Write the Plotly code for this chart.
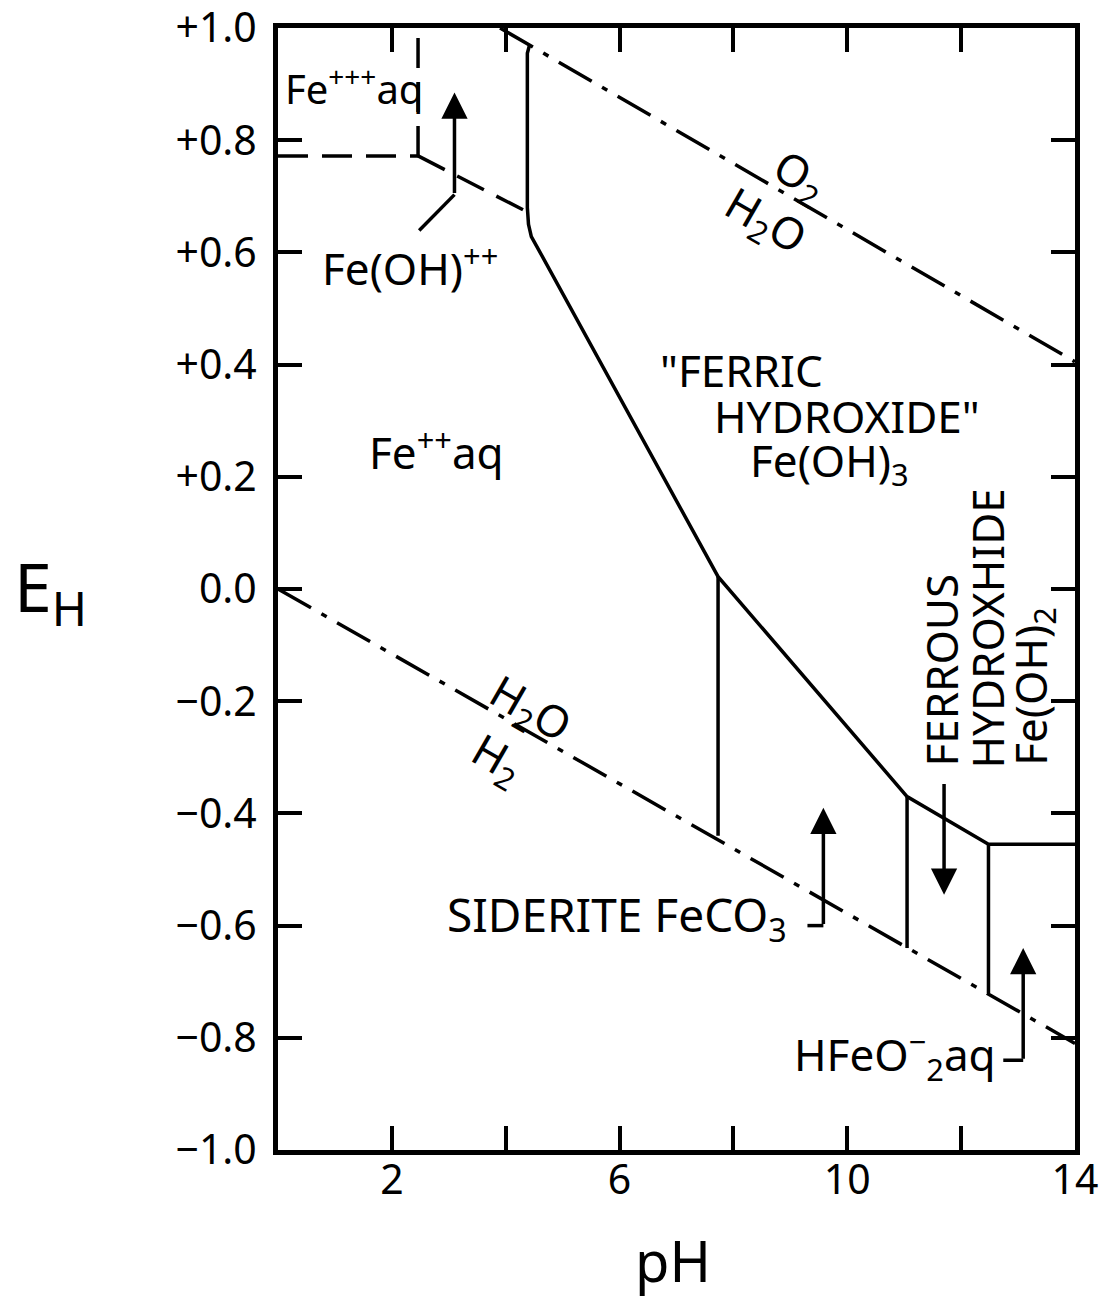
import plotly.graph_objects as go

# ---------------- data (pH, Eh) ----------------
o2_ph = [3.9, 14.0]
o2_eh = [1.0, 0.405]

h2_ph = [0.0, 14.0]
h2_eh = [0.0, -0.81]

fe3_h_ph = [0.0, 2.46]
fe3_h_eh = [0.772, 0.772]
fe3_v_ph = [2.46, 2.46]
fe3_v_eh = [0.772, 1.0]
feoh_ph = [2.46, 4.38]
feoh_eh = [0.772, 0.672]

ferric_ph = [4.42, 4.38, 4.38, 4.40, 4.45, 4.55, 7.73, 11.05, 12.48, 14.0]
ferric_eh = [0.97, 0.955, 0.68, 0.65, 0.628, 0.61, 0.022, -0.37, -0.455, -0.455]

vert1_ph = [7.73, 7.73]
vert1_eh = [0.022, -0.44]
vert2_ph = [11.05, 11.05]
vert2_eh = [-0.37, -0.64]
vert3_ph = [12.48, 12.48]
vert3_eh = [-0.455, -0.72]

# leader lines and arrows
lead_feoh_ph = [2.48, 3.1]
lead_feoh_eh = [0.639, 0.703]
arrow_feoh = (3.1, 0.703, 3.1, 0.885)
lead_sid_ph = [9.30, 9.58]
lead_sid_eh = [-0.60, -0.60]
arrow_sid = (9.58, -0.60, 9.58, -0.39)
arrow_ferrous = (11.70, -0.345, 11.70, -0.545)
lead_hfe_ph = [12.74, 13.09]
lead_hfe_eh = [-0.84, -0.84]
arrow_hfe = (13.09, -0.84, 13.09, -0.64)

x_tickvals = [2, 4, 6, 8, 10, 12, 14]
x_ticktext = ["2", "", "6", "", "10", "", "14"]
y_tickvals = [1.0, 0.8, 0.6, 0.4, 0.2, 0.0, -0.2, -0.4, -0.6, -0.8, -1.0]
y_ticktext = ["+1.0", "+0.8", "+0.6", "+0.4", "+0.2", "0.0", "\u22120.2", "\u22120.4",
              "\u22120.6", "\u22120.8", "\u22121.0"]

FONT = "Noto Sans"
LW = 3.5
FS = 44

fig = go.Figure()

def line(x, y, dash="solid", width=LW):
    fig.add_trace(go.Scatter(x=x, y=y, mode="lines",
                             line=dict(color="black", width=width, dash=dash),
                             hoverinfo="skip", showlegend=False))

dashdot = "38px,12px,6px,12px"
dashed = "30px,14px"
line(o2_ph, o2_eh, dashdot)
line(h2_ph, h2_eh, dashdot)
line(fe3_h_ph, fe3_h_eh, dashed)
line(fe3_v_ph, fe3_v_eh, dashed)
line(feoh_ph, feoh_eh, dashed)
line(ferric_ph, ferric_eh)
line(vert1_ph, vert1_eh)
line(vert2_ph, vert2_eh)
line(vert3_ph, vert3_eh)
line(lead_feoh_ph, lead_feoh_eh)
line(lead_sid_ph, lead_sid_eh)
line(lead_hfe_ph, lead_hfe_eh)

for (x0, y0, x1, y1) in [arrow_feoh, arrow_sid, arrow_ferrous, arrow_hfe]:
    fig.add_annotation(x=x1, y=y1, ax=x0, ay=y0, xref="x", yref="y",
                       axref="x", ayref="y", text="", showarrow=True,
                       arrowhead=2, arrowsize=1.5, arrowwidth=3.5, arrowcolor="black")

def label(x, y, text, size=FS, angle=0, xanchor="center", yanchor="middle"):
    fig.add_annotation(x=x, y=y, xref="x", yref="y", text=text, showarrow=False,
                       textangle=angle, xanchor=xanchor, yanchor=yanchor,
                       font=dict(family=FONT, size=size, color="black"))

label(0.09, 0.895, "Fe<sup>+++</sup>aq", size=40, xanchor="left")
label(0.74, 0.575, "Fe(OH)<sup>++</sup>", xanchor="left")
label(1.56, 0.248, "Fe<sup>++</sup>aq", xanchor="left")
label(6.68, 0.391, "\"FERRIC", xanchor="left")
label(7.63, 0.309, "HYDROXIDE\"", xanchor="left")
label(8.26, 0.225, "Fe(OH)<sub>3</sub>", xanchor="left")
label(2.93, -0.585, "SIDERITE FeCO<sub>3</sub>", size=46, xanchor="left")
label(12.65, -0.83, "HFeO<sup>\u2212</sup><sub>2</sub>aq", xanchor="right")
label(11.65, -0.145, "FERROUS", angle=-90)
label(12.46, -0.07, "HYDROXHIDE", angle=-90)
label(13.24, -0.173, "Fe(OH)<sub>2</sub>", angle=-90)
label(9.17, 0.736, "O<sub>2</sub>", angle=30)
label(8.56, 0.655, "H<sub>2</sub>O", angle=30)
label(4.43, -0.214, "H<sub>2</sub>O", angle=30)
label(3.85, -0.304, "H<sub>2</sub>", angle=30)

# axis titles
fig.add_annotation(x=-0.334, y=0.5, xref="paper", yref="paper", text="E<sub>H</sub>",
                   showarrow=False, xanchor="left", yanchor="middle",
                   font=dict(family=FONT, size=68, color="black"))
fig.add_annotation(x=0.495, y=-0.098, xref="paper", yref="paper", text="pH",
                   showarrow=False, xanchor="center", yanchor="middle",
                   font=dict(family=FONT, size=56, color="black"))

axis_common = dict(showgrid=False, zeroline=False, showline=True, linecolor="black",
                   linewidth=5, mirror="ticks", ticks="inside", ticklen=24,
                   tickwidth=4, tickcolor="black", automargin=False,
                   ticklabeloverflow="allow",
                   tickfont=dict(family=FONT, size=41, color="black"))

fig.update_xaxes(range=[0, 14], tickmode="array", tickvals=x_tickvals,
                 ticktext=x_ticktext, ticklabelstandoff=-10, **axis_common)
fig.update_yaxes(range=[-1, 1], tickmode="array", tickvals=y_tickvals,
                 ticktext=y_ticktext, ticklabelstandoff=8, **axis_common)

fig.update_layout(width=1103, height=1297, plot_bgcolor="white", paper_bgcolor="white",
                  margin=dict(l=278, r=28, t=28, b=147), showlegend=False)

fig.write_html("out.html", config={"displayModeBar": False},
               post_script="document.body.style.margin='0';")
